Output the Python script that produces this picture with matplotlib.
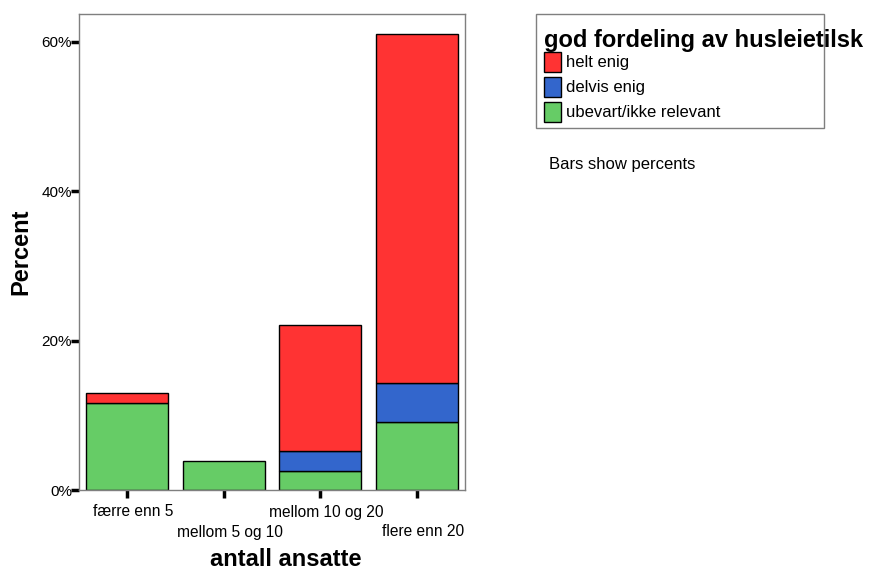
import numpy as np
import matplotlib.pyplot as plt
from matplotlib.patches import Rectangle
from matplotlib.transforms import ScaledTranslation

plt.rcParams['font.family'] = ['Liberation Sans', 'DejaVu Sans']

# Data (percent of all respondents)
categories = ['færre enn 5', 'mellom 5 og 10', 'mellom 10 og 20', 'flere enn 20']
ubevart = [11.69, 3.90, 2.60, 9.09]
delvis = [0.0, 0.0, 2.60, 5.19]
helt = [1.30, 0.0, 16.88, 46.75]

series_names = ['helt enig', 'delvis enig', 'ubevart/ikke relevant']
colors = {'helt enig': '#FF3333', 'delvis enig': '#3366CC', 'ubevart/ikke relevant': '#66CC66'}

fig = plt.figure(figsize=(8.69, 5.70), dpi=100)
ax = fig.add_axes([79 / 869, 80 / 570, 386 / 869, 476 / 570])

x = np.arange(len(categories))
w = 0.845
bottom = np.zeros(len(categories))
for name, vals in [('ubevart/ikke relevant', ubevart), ('delvis enig', delvis), ('helt enig', helt)]:
    vals = np.array(vals)
    mask = vals > 0
    ax.bar(x[mask], vals[mask], w, bottom=bottom[mask], color=colors[name],
           edgecolor='black', linewidth=1.0)
    bottom += vals

ax.set_xlim(-0.5, 3.5)
ax.set_ylim(0, 63.7)
ax.set_yticks([0, 20, 40, 60])
ax.set_yticklabels(['0%', '20%', '40%', '60%'], fontsize=11)
ax.set_xticks(x)
ax.set_xticklabels([])
ax.tick_params(axis='both', direction='out', length=6, width=2.5, color='black')
ax.tick_params(axis='y', pad=-1)
for s in ax.spines.values():
    s.set_color('#7f7f7f')
    s.set_linewidth(1.0)

# staggered category labels, slightly right of the ticks as in the source
for i, c in enumerate(categories):
    dy = -22 if i % 2 == 0 else -42
    tr = ax.get_xaxis_transform() + ScaledTranslation(6 / 100, dy / 100, fig.dpi_scale_trans)
    ax.text(x[i], 0, c, transform=tr, ha='center', va='center', fontsize=11.2)

ax.set_ylabel('Percent', fontsize=17, fontweight='bold')
ax.yaxis.set_label_coords(-58 / 386, 0.5)
ax.set_xlabel('antall ansatte', fontsize=17, fontweight='bold')
ax.xaxis.set_label_coords(0.5 + 14 / 386, -70 / 476)
ax.xaxis.label.set_va('center')
ax.yaxis.label.set_va('center')

# legend box drawn by hand (title spills out of the frame as in the source)
fig.patches.append(Rectangle((536 / 869, 1 - 128 / 570), 288 / 869, 114 / 570,
                             transform=fig.transFigure, fill=False,
                             edgecolor='#7f7f7f', linewidth=1.0))
fig.text(544 / 869, 1 - 40 / 570, 'god fordeling av husleietilsk', fontsize=17,
         fontweight='bold', va='center', ha='left')
for i, name in enumerate(series_names):
    yc = 61.5 + i * 25
    fig.patches.append(Rectangle((544 / 869, 1 - (yc + 10) / 570), 17 / 869, 20 / 570,
                                 transform=fig.transFigure, facecolor=colors[name],
                                 edgecolor='black', linewidth=1.0))
    fig.text(566 / 869, 1 - (yc + 1) / 570, name, fontsize=12, va='center', ha='left')

fig.text(549 / 869, 1 - 165 / 570, 'Bars show percents', fontsize=12, va='center', ha='left')

fig.savefig('out.png', dpi=100)
